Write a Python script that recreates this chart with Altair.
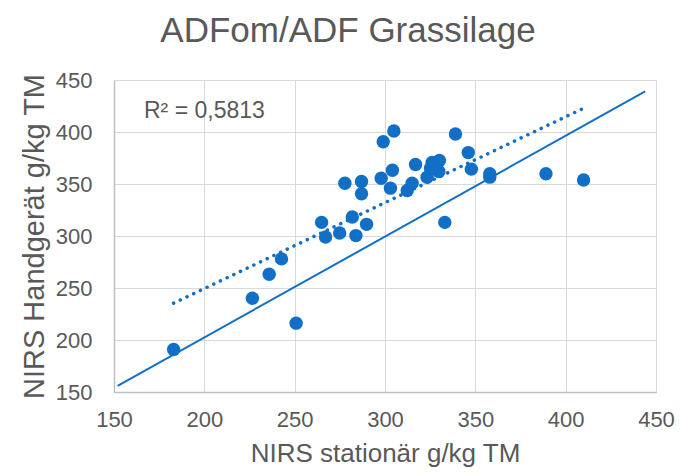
import altair as alt
import pandas as pd

# NIRS stationär (x) vs NIRS Handgerät (y), g/kg TM
x_vals = [304.9, 299.0, 339.0, 346.1, 316.9, 326.1, 330.1, 304.1, 297.9, 277.8,
          287.0, 287.0, 303.0, 312.3, 315.0, 323.3, 329.8, 327.0, 347.8, 358.0,
          358.0, 389.1, 409.9, 333.1, 264.9, 281.9, 289.8, 274.9, 267.1, 283.9,
          242.7, 235.9, 226.6, 250.8, 183.0, 325.2]
y_vals = [401.0, 390.7, 398.1, 380.2, 368.8, 370.6, 372.6, 363.3, 355.6, 350.8,
          352.4, 340.6, 346.0, 343.7, 350.8, 356.6, 362.0, 366.8, 364.3, 359.8,
          356.6, 359.8, 353.8, 313.1, 313.1, 318.3, 311.2, 302.9, 299.1, 300.4,
          278.0, 263.2, 240.2, 216.2, 190.8, 365.2]

# reference (1:1) line end points
ref_x = [152, 444]
ref_y = [156, 439]

r2_label = "R² = 0,5813"
axis_ticks = [150, 200, 250, 300, 350, 400, 450]

BLUE = "#1170C6"
GREY = "#595959"
FONT = "Liberation Sans"

df = pd.DataFrame({"x": x_vals, "y": y_vals})
ref_df = pd.DataFrame({"x": ref_x, "y": ref_y})

xscale = alt.Scale(domain=[150, 450], nice=False, zero=False)
yscale = alt.Scale(domain=[150, 450], nice=False, zero=False)

xaxis = alt.Axis(values=axis_ticks, title="NIRS stationär g/kg TM", ticks=False,
                 labelFontSize=22, labelColor=GREY, labelPadding=17, labelFont=FONT,
                 labelFlush=False, labelOverlap=False,
                 titleFontSize=26, titleColor=GREY, titleFont=FONT, titleFontWeight="normal",
                 titlePadding=10, grid=True, gridColor="#d9d9d9", gridWidth=1,
                 domainColor="#bfbfbf", domainWidth=1.5)
yaxis = alt.Axis(values=axis_ticks, title="NIRS Handgerät g/kg  TM", ticks=False,
                 labelFontSize=22, labelColor=GREY, labelPadding=22, labelFont=FONT,
                 labelFlush=False, labelOverlap=False,
                 titleFontSize=29, titleColor=GREY, titleFont=FONT, titleFontWeight="normal",
                 titlePadding=6, grid=True, gridColor="#d9d9d9", gridWidth=1,
                 domainColor="#bfbfbf", domainWidth=1.5)

points = alt.Chart(df).mark_circle(size=180, color=BLUE, opacity=1).encode(
    x=alt.X("x:Q", scale=xscale, axis=xaxis),
    y=alt.Y("y:Q", scale=yscale, axis=yaxis),
)

trend = alt.Chart(df).transform_regression("x", "y").mark_line(
    color=BLUE, strokeWidth=3.5, strokeDash=[0.1, 7.3], strokeCap="round"
).encode(
    x=alt.X("x:Q", scale=xscale),
    y=alt.Y("y:Q", scale=yscale),
)

ref = alt.Chart(ref_df).mark_line(color=BLUE, strokeWidth=2).encode(
    x=alt.X("x:Q", scale=xscale),
    y=alt.Y("y:Q", scale=yscale),
)

r2 = alt.Chart(pd.DataFrame({"t": [r2_label]})).mark_text(
    align="left", baseline="alphabetic", fontSize=23, font=FONT, color=GREY
).encode(x=alt.value(30), y=alt.value(38), text="t:N")

chart = alt.layer(ref, trend, points, r2).properties(
    width=542,
    height=312,
    autosize=alt.AutoSizeParams(type="none"),
    padding={"left": 106, "top": 72, "right": 19, "bottom": 75},
    title=alt.TitleParams("ADFom/ADF Grassilage", fontSize=35, font=FONT, color=GREY,
                          fontWeight="normal", anchor="middle", dx=-37, offset=20),
).configure_view(stroke=None)

chart.save("out.html", embed_options={"renderer": "svg", "actions": False})
